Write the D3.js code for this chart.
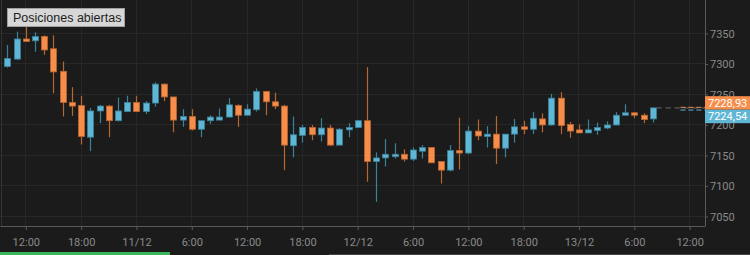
<!DOCTYPE html>
<html>
<head>
<meta charset="utf-8">
<script src="https://cdn.jsdelivr.net/npm/d3@7"></script>
<style>
  html, body { margin: 0; padding: 0; background: #1b1b1b; }
  svg { display: block; }
</style>
</head>
<body>
<div id="chart"></div>
<script>
// hourly candles, first one at 10/12 10:00
var firstCandle = new Date(2018, 11, 10, 10);

var openValues  = [7296,7308,7341,7338,7345,7325,7288,7237,7232,7180,
                   7223,7231,7207,7222,7237,7222,7236,7267,7246,7208,
                   7214,7193,7207,7208,7213,7232,7216,7225,7255,7238,
                   7231,7166,7183,7196,7184,7195,7167,7192,7196,7207,
                   7140,7146,7148,7152,7144,7157,7163,7140,7126,7158,
                   7154,7190,7181,7185,7162,7185,7197,7193,7210,7200,
                   7244,7201,7192,7187,7191,7195,7200,7216,7220,7216,
                   7210];
var highValues  = [7331,7353,7361,7352,7347,7347,7304,7262,7248,7228,
                   7233,7233,7245,7248,7248,7239,7270,7268,7246,7226,
                   7226,7207,7216,7227,7244,7234,7234,7260,7256,7253,
                   7233,7214,7200,7200,7211,7200,7195,7203,7208,7295,
                   7155,7177,7170,7160,7163,7167,7163,7140,7167,7212,
                   7198,7209,7198,7215,7185,7210,7207,7221,7219,7251,
                   7254,7205,7201,7209,7204,7206,7221,7234,7221,7219,
                   7229];
var lowValues   = [7294,7307,7337,7320,7315,7252,7214,7215,7168,7157,
                   7203,7180,7206,7221,7221,7218,7230,7239,7188,7197,
                   7191,7180,7202,7208,7213,7197,7216,7222,7216,7226,
                   7126,7147,7171,7175,7173,7166,7167,7180,7196,7107,
                   7074,7132,7145,7140,7141,7145,7138,7104,7124,7127,
                   7152,7175,7163,7136,7147,7171,7185,7185,7188,7199,
                   7185,7179,7187,7187,7184,7193,7200,7216,7211,7203,
                   7204];
var closeValues = [7309,7341,7337,7345,7323,7287,7237,7231,7181,7223,
                   7231,7207,7223,7237,7222,7236,7267,7246,7208,7214,
                   7193,7207,7213,7213,7233,7216,7226,7255,7238,7231,
                   7167,7184,7196,7184,7195,7167,7193,7196,7207,7140,
                   7146,7152,7152,7144,7159,7163,7138,7126,7158,7154,
                   7190,7182,7185,7162,7185,7197,7193,7211,7200,7244,
                   7199,7190,7187,7192,7196,7200,7216,7220,7216,7209,
                   7228];

var xTickLabels = ["12:00","18:00","11/12","6:00","12:00","18:00","12/12",
                   "6:00","12:00","18:00","13/12","6:00","12:00"];
var yTickValues = [7050, 7100, 7150, 7200, 7250, 7300, 7350];

var bidPrice = 7228.93, askPrice = 7224.54;
var priceLabels = ["7228,93", "7224,54"];
var chartTitle = "Posiciones abiertas";

var width = 750, height = 255,
    plotRight = 705, plotBottom = 226;

var orange = '#f68d4a', orangeDark = '#b8652f',
    blue = '#5fb6d5', blueDark = '#3b8199';

var data = openValues.map(function(o, i) {
    return {
        time: d3.timeHour.offset(firstCandle, i),
        open: o, high: highValues[i], low: lowValues[i], close: closeValues[i]
    };
});

var svg = d3.select('#chart').append('svg')
    .attr('width', width).attr('height', height);

svg.append('rect').attr('width', width).attr('height', height).attr('fill', '#1b1b1b');

var x = d3.scaleTime()
    .domain([new Date(2018, 11, 10, 9, 12), new Date(2018, 11, 13, 13, 40)])
    .range([0, plotRight]);

var y = d3.scaleLinear()
    .domain([7034.4, 7404.9])
    .range([plotBottom, 0]);

var xTicks = d3.timeHour.every(6).range(new Date(2018, 11, 10, 12), new Date(2018, 11, 13, 13));

// grid
svg.append('g').selectAll('line').data(xTicks).enter().append('line')
    .attr('x1', d => x(d)).attr('x2', d => x(d))
    .attr('y1', 0).attr('y2', plotBottom)
    .attr('stroke', '#272727').attr('stroke-width', 1)
    .attr('shape-rendering', 'crispEdges');

svg.append('g').selectAll('line').data(yTickValues).enter().append('line')
    .attr('x1', 0).attr('x2', plotRight)
    .attr('y1', d => y(d)).attr('y2', d => y(d))
    .attr('stroke', '#272727').attr('stroke-width', 1)
    .attr('shape-rendering', 'crispEdges');

// left border
svg.append('line').attr('x1', 1.5).attr('x2', 1.5).attr('y1', 0).attr('y2', plotBottom)
    .attr('stroke', '#333');

// candles
var step = x(d3.timeHour.offset(firstCandle, 1)) - x(firstCandle);
var bw = Math.round(step * 0.7);

var candle = svg.append('g').selectAll('g').data(data).enter().append('g');

candle.append('line')
    .attr('x1', d => Math.round(x(d.time)) + 0.5)
    .attr('x2', d => Math.round(x(d.time)) + 0.5)
    .attr('y1', d => y(d.high)).attr('y2', d => y(d.low))
    .attr('stroke', d => d.close >= d.open ? blueDark : orangeDark)
    .attr('stroke-width', 1.2);

candle.append('rect')
    .attr('x', d => Math.round(x(d.time)) + 0.5 - bw / 2)
    .attr('width', bw)
    .attr('y', d => y(Math.max(d.open, d.close)))
    .attr('height', d => Math.max(2, Math.abs(y(d.open) - y(d.close))))
    .attr('fill', d => d.close >= d.open ? blue : orange)
    .attr('stroke', d => d.close >= d.open ? blueDark : orangeDark)
    .attr('stroke-width', 0.8);

// last price dashed lines
var last = data[data.length - 1];
svg.append('line')
    .attr('x1', x(last.time) + bw / 2 + 1).attr('x2', plotRight)
    .attr('y1', y(last.close)).attr('y2', y(last.close))
    .attr('stroke', '#6a6a6a').attr('stroke-dasharray', '5,4');

var quoteStart = x(d3.timeHour.offset(last.time, 3));
svg.append('line')
    .attr('x1', quoteStart).attr('x2', plotRight)
    .attr('y1', y(bidPrice)).attr('y2', y(bidPrice))
    .attr('stroke', orange).attr('stroke-dasharray', '5,3');
svg.append('line')
    .attr('x1', quoteStart).attr('x2', plotRight)
    .attr('y1', y(askPrice)).attr('y2', y(askPrice))
    .attr('stroke', blue).attr('stroke-dasharray', '5,3');

// axes
var xAxis = svg.append('g')
    .attr('transform', 'translate(0,' + plotBottom + ')')
    .call(d3.axisBottom(x).tickValues(xTicks).tickSize(4).tickSizeOuter(0)
        .tickFormat((d, i) => xTickLabels[i]));

var yAxis = svg.append('g')
    .attr('transform', 'translate(' + plotRight + ',0)')
    .call(d3.axisRight(y).tickValues(yTickValues).tickSize(3).tickSizeOuter(0)
        .tickFormat(d3.format('d')));

[xAxis, yAxis].forEach(function(a) {
    a.select('.domain').attr('stroke', '#5a5a5a');
    a.selectAll('.tick line').attr('stroke', '#5a5a5a');
    a.selectAll('.tick text')
        .attr('fill', '#8a8a8a')
        .style('font-family', 'Roboto, sans-serif')
        .style('font-size', '11px');
});
xAxis.selectAll('.tick text').attr('dy', '1.05em');
yAxis.select('.domain').attr('d', 'M0.5,0V' + plotBottom);
xAxis.selectAll('.tick text').attr('y', 8);
yAxis.selectAll('.tick text').attr('x', 5);

// price labels
var mid = (y(bidPrice) + y(askPrice)) / 2 + 1;
var boxH = 13.5;
[[priceLabels[0], orange, mid - boxH], [priceLabels[1], blue, mid]].forEach(function(p) {
    svg.append('rect')
        .attr('x', plotRight).attr('y', p[2])
        .attr('width', width - plotRight).attr('height', boxH)
        .attr('fill', p[1]);
    svg.append('text')
        .attr('x', plotRight + 3).attr('y', p[2] + boxH / 2)
        .attr('dy', '0.35em')
        .attr('fill', '#ffffff')
        .style('font-family', 'Roboto, sans-serif')
        .style('font-size', '11px')
        .text(p[0]);
});

// title box
svg.append('rect')
    .attr('x', 7.5).attr('y', 8.5).attr('width', 117).attr('height', 18)
    .attr('fill', '#d7d7d7').attr('stroke', '#a0a0a0');
svg.append('text')
    .attr('x', 13).attr('y', 21.5)
    .attr('fill', '#1e1e1e')
    .style('font-family', '"Liberation Sans", Arial, sans-serif')
    .style('font-size', '12.5px')
    .text(chartTitle);

// bottom tab strip
svg.append('rect').attr('x', 0).attr('y', 252).attr('width', 170).attr('height', 3).attr('fill', '#3bb65c');
svg.append('line').attr('x1', 329).attr('x2', width).attr('y1', 254.5).attr('y2', 254.5)
    .attr('stroke', '#444');
</script>
</body>
</html>
